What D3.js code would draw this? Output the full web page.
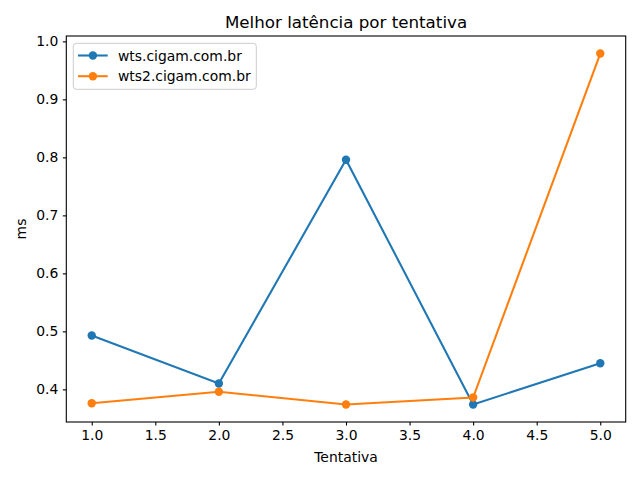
<!DOCTYPE html>
<html><head><meta charset="utf-8">
<script src="https://cdn.jsdelivr.net/npm/d3@7"></script>
<style>body{margin:0;background:#fff}svg{display:block;font-family:"DejaVu Sans",sans-serif}</style>
</head><body><svg id="c" width="640" height="480"></svg>
<script>
const attempts = [1, 2, 3, 4, 5];
const seriesNames = ["wts.cigam.com.br", "wts2.cigam.com.br"];
const wtsValues = [0.493, 0.410, 0.796, 0.374, 0.445];
const wts2Values = [0.376, 0.396, 0.374, 0.386, 0.979];
const xTicks = [1.0, 1.5, 2.0, 2.5, 3.0, 3.5, 4.0, 4.5, 5.0];
const yTicks = [0.4, 0.5, 0.6, 0.7, 0.8, 0.9, 1.0];
const colors = ["#1f77b4", "#ff7f0e"];

const svg = d3.select("#c");
const L = 66.3, R = 625.7, T = 36, B = 422;
const all = wtsValues.concat(wts2Values);
const ymin = d3.min(all), ymax = d3.max(all), pad = (ymax - ymin) * 0.05;
const x = d3.scaleLinear().domain([0.8, 5.2]).range([L, R]);
const y = d3.scaleLinear().domain([ymin - pad, ymax + pad]).range([B, T]);

const xAxis = svg.append("g").attr("transform", `translate(0,${B})`)
  .call(d3.axisBottom(x).tickValues(xTicks).tickFormat(d3.format(".1f")).tickSize(3.5).tickPadding(4.5));
const yAxis = svg.append("g").attr("transform", `translate(${L},0)`)
  .call(d3.axisLeft(y).tickValues(yTicks).tickFormat(d3.format(".1f")).tickSize(3.5).tickPadding(4.5));
[xAxis, yAxis].forEach(a => {
  a.select(".domain").remove();
  a.selectAll("text").attr("font-size", "13.9px").attr("fill", "#000").attr("font-family", "DejaVu Sans");
  a.selectAll("line").attr("stroke", "#000").attr("stroke-width", 1.1);
});

const series = [wtsValues, wts2Values];
series.forEach((vals, i) => {
  const data = attempts.map((a, j) => [a, vals[j]]);
  svg.append("path").datum(data)
    .attr("d", d3.line().x(d => x(d[0])).y(d => y(d[1])))
    .attr("fill", "none").attr("stroke", colors[i]).attr("stroke-width", 2.08);
  svg.append("g").selectAll("circle").data(data).join("circle")
    .attr("cx", d => x(d[0])).attr("cy", d => y(d[1])).attr("r", 4.2).attr("fill", colors[i]);
});

svg.append("rect").attr("x", L).attr("y", T).attr("width", R - L).attr("height", B - T)
  .attr("fill", "none").attr("stroke", "#000").attr("stroke-width", 1.1);

svg.append("text").attr("x", (L + R) / 2).attr("y", 28).attr("text-anchor", "middle")
  .attr("font-size", "16.7px").text("Melhor latência por tentativa");
svg.append("text").attr("x", (L + R) / 2).attr("y", 462).attr("text-anchor", "middle")
  .attr("font-size", "13.9px").text("Tentativa");
svg.append("text").attr("transform", `translate(26,${(T + B) / 2}) rotate(-90)`).attr("text-anchor", "middle")
  .attr("font-size", "13.9px").text("ms");

const lg = svg.append("g");
lg.append("rect").attr("x", 73.3).attr("y", 43.3).attr("width", 183).attr("height", 46).attr("rx", 3)
  .attr("fill", "#fff").attr("fill-opacity", 0.8).attr("stroke", "#ccc").attr("stroke-width", 1);
seriesNames.forEach((n, i) => {
  const yy = 55.5 + i * 20.7;
  lg.append("line").attr("x1", 78).attr("x2", 107.7).attr("y1", yy).attr("y2", yy)
    .attr("stroke", colors[i]).attr("stroke-width", 2.08);
  lg.append("circle").attr("cx", 92.9).attr("cy", yy).attr("r", 4.2).attr("fill", colors[i]);
  lg.append("text").attr("x", 118).attr("y", yy + 5).attr("font-size", "13.9px").text(n);
});
</script></body></html>
